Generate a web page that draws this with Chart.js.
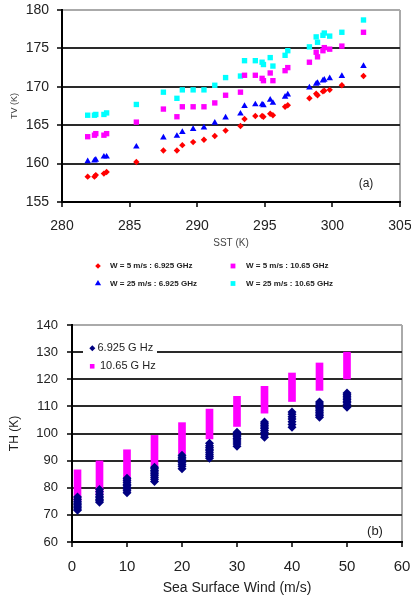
<!DOCTYPE html>
<html><head><meta charset="utf-8">
<script src="https://cdn.jsdelivr.net/npm/chart.js@4/dist/chart.umd.min.js"></script>
<style>
html,body{margin:0;padding:0;background:#fff;}
#wrap{position:relative;width:411px;height:602px;overflow:hidden;background:#fff;}
#c1{position:absolute;left:0;top:0;}
#c2{position:absolute;left:0;top:300px;}
</style></head><body>
<div id="wrap">
<canvas id="c1" width="411" height="300"></canvas>
<canvas id="c2" width="411" height="302"></canvas>
</div>
<script>
// ---------- Panel (a): TV vs SST ----------
const sst = [281.9, 282.4, 282.5, 283.1, 283.3, 285.5, 287.5, 288.5, 288.9, 289.7, 290.5, 291.3, 292.1, 293.2, 293.5, 294.3, 294.8, 294.9, 295.4, 295.6, 296.5, 296.7, 298.3, 298.8, 298.9, 299.3, 299.4, 299.8, 300.7, 302.3];
const tvW5_6925  = [158.3, 158.3, 158.5, 158.7, 158.9, 160.2, 161.7, 161.7, 162.4, 162.8, 163.1, 163.6, 164.3, 164.9, 165.8, 166.2, 166.2, 166.1, 166.5, 166.3, 167.4, 167.6, 168.5, 169.1, 168.9, 169.4, 169.5, 169.6, 170.2, 171.4];
const tvW5_1065  = [163.5, 163.7, 163.9, 163.7, 163.9, 165.4, 167.1, 166.1, 167.4, 167.4, 167.4, 167.9, 168.9, 169.3, 171.5, 171.5, 171.1, 170.8, 171.8, 170.8, 172.1, 172.5, 173.2, 174.5, 173.9, 174.7, 175.1, 174.9, 175.3, 177.1];
const tvW25_6925 = [160.3, 160.4, 160.5, 160.9, 160.9, 162.2, 163.4, 163.6, 164.1, 164.5, 164.7, 165.3, 166.0, 166.5, 167.5, 167.7, 167.7, 167.6, 168.3, 167.9, 168.7, 169.0, 169.9, 170.4, 170.5, 170.8, 170.9, 171.1, 171.4, 172.7];
const tvW25_1065 = [166.3, 166.3, 166.4, 166.4, 166.6, 167.7, 169.3, 168.5, 169.6, 169.6, 169.6, 170.2, 171.2, 171.4, 173.4, 173.4, 173.2, 172.9, 173.8, 172.7, 174.1, 174.7, 175.2, 176.5, 175.8, 176.7, 177.0, 176.6, 177.1, 178.7];
const sstTicks = [280, 285, 290, 295, 300, 305];
const tvTicks = [155, 160, 165, 170, 175, 180];
const seriesNamesA = ['W = 5 m/s : 6.925 GHz', 'W = 5 m/s : 10.65 GHz', 'W = 25 m/s : 6.925 GHz', 'W = 25 m/s : 10.65 GHz'];

// ---------- Panel (b): TH vs sea surface wind ----------
const windSpeeds = [1, 5, 10, 15, 20, 25, 30, 35, 40, 45, 50];
const th6925 = [
  [71.7, 72.2, 72.8, 73.3, 73.9, 74.4, 75.0, 75.8, 76.6],
  [74.7, 75.2, 75.7, 76.3, 76.9, 77.6, 78.5, 79.4],
  [78.2, 78.9, 79.5, 80.1, 80.7, 81.3, 82.0, 82.8, 83.5],
  [82.3, 83.1, 83.9, 84.6, 85.2, 85.8, 86.4, 87.0, 87.6],
  [87.0, 87.9, 88.7, 89.4, 90.0, 90.6, 91.2, 92.0],
  [90.9, 91.5, 92.2, 92.9, 93.6, 94.2, 94.8, 95.5, 96.4],
  [95.3, 96.1, 96.9, 97.6, 98.2, 98.8, 99.4, 100.0, 100.5],
  [98.6, 99.5, 100.4, 101.1, 101.8, 102.4, 103.0, 103.6, 104.2],
  [102.3, 103.3, 104.3, 105.3, 106.2, 107.1, 107.9],
  [106.0, 106.6, 107.2, 107.8, 108.4, 109.0, 109.6, 110.2, 110.9, 111.6],
  [109.7, 110.6, 111.3, 111.9, 112.5, 113.1, 113.7, 114.3, 114.9]
];
const th1065Low  = [75.3, 77.5, 82.4, 87.7, 92.5, 98.0, 102.6, 107.5, 111.8, 115.9, 120.1];
const th1065High = [86.6, 89.9, 94.0, 99.3, 104.0, 109.0, 113.7, 117.4, 122.3, 126.0, 130.0];
const windTicks = [0, 10, 20, 30, 40, 50, 60];
const thTicks = [60, 70, 80, 90, 100, 110, 120, 130, 140];
const seriesNamesB = ['6.925 G Hz', '10.65 G Hz'];

// ---------- helpers ----------
const FONT = '"Liberation Sans", Arial, Helvetica, sans-serif';
function marker(ctx, style, x, y, r, color) {
  ctx.fillStyle = color;
  ctx.beginPath();
  if (style === 'rectRot') {
    ctx.moveTo(x - r, y); ctx.lineTo(x, y - r); ctx.lineTo(x + r, y); ctx.lineTo(x, y + r);
  } else if (style === 'triangle') {
    ctx.moveTo(x, y - r); ctx.lineTo(x + r * 0.866, y + r * 0.5); ctx.lineTo(x - r * 0.866, y + r * 0.5);
  } else {
    ctx.rect(x - r, y - r, 2 * r, 2 * r);
  }
  ctx.closePath();
  ctx.fill();
}
const deco = {
  id: 'deco',
  beforeDatasetsDraw(chart, args, opts) {
    const ctx = chart.ctx;
    (opts.boxes || []).forEach(b => { ctx.fillStyle = '#fff'; ctx.fillRect(b.x, b.y, b.w, b.h); });
  },
  afterDraw(chart, args, opts) {
    const ctx = chart.ctx;
    ctx.save();
    (opts.legend || []).forEach(it => {
      const ds = chart.data.datasets[it.ds];
      marker(ctx, it.style, it.mx, it.y, it.r, ds.backgroundColor);
      ctx.font = it.font;
      ctx.fillStyle = '#222';
      ctx.textBaseline = 'middle';
      ctx.textAlign = 'left';
      ctx.fillText(ds.label, it.tx, it.y);
    });
    (opts.texts || []).forEach(t => {
      ctx.font = t.font;
      ctx.fillStyle = '#222';
      ctx.textBaseline = 'middle';
      ctx.textAlign = 'center';
      ctx.fillText(t.text, t.x, t.y);
    });
    ctx.restore();
  }
};
const TRANSPARENT = 'rgba(0,0,0,0)';

// ---------- Chart (a) ----------
const ptsA = arr => sst.map((x, i) => ({ x: x, y: arr[i] }));
new Chart(document.getElementById('c1'), {
  type: 'scatter',
  data: {
    datasets: [
      { label: seriesNamesA[0], data: ptsA(tvW5_6925), pointStyle: 'rectRot', radius: 3.2, backgroundColor: '#ff0000', borderColor: '#ff0000', borderWidth: 0 },
      { label: seriesNamesA[1], data: ptsA(tvW5_1065), pointStyle: 'rect', radius: 3.8, backgroundColor: '#ff00ff', borderColor: '#ff00ff', borderWidth: 0 },
      { label: seriesNamesA[2], data: ptsA(tvW25_6925), pointStyle: 'triangle', radius: 3.8, backgroundColor: '#0000ff', borderColor: '#0000ff', borderWidth: 0 },
      { label: seriesNamesA[3], data: ptsA(tvW25_1065), pointStyle: 'rect', radius: 3.8, backgroundColor: '#00ffff', borderColor: '#00ffff', borderWidth: 0 }
    ]
  },
  options: {
    responsive: false, animation: false, events: [],
    layout: { padding: { left: 0, right: 11, top: 10, bottom: 0 } },
    plugins: {
      legend: { display: false }, tooltip: { enabled: false },
      deco: {
        legend: [
          { ds: 0, style: 'rectRot', r: 2.8, mx: 98, tx: 110, y: 266, font: 'bold 8px ' + FONT },
          { ds: 1, style: 'rect', r: 2.4, mx: 233, tx: 246, y: 266, font: 'bold 8px ' + FONT },
          { ds: 2, style: 'triangle', r: 3.6, mx: 98, tx: 110, y: 283.5, font: 'bold 8px ' + FONT },
          { ds: 3, style: 'rect', r: 2.4, mx: 233, tx: 246, y: 283.5, font: 'bold 8px ' + FONT }
        ],
        texts: [ { text: '(a)', x: 366, y: 184, font: '12px ' + FONT } ]
      }
    },
    scales: {
      x: {
        type: 'linear', min: 280, max: 305,
        afterBuildTicks: s => { s.ticks = sstTicks.map(v => ({ value: v })); },
        afterFit: s => { s.height = 98; s.paddingLeft = 0; s.paddingRight = 0; },
        grid: { color: c => (c.tick && c.tick.value === 305) ? '#aaaaaa' : TRANSPARENT, lineWidth: 2, tickColor: '#000', tickLength: 5, tickWidth: 1.5 },
        border: { color: '#000', width: 2 },
        ticks: { font: { family: FONT, size: 14 }, color: '#222', padding: 11, maxRotation: 0, autoSkip: false },
        title: { display: true, text: 'SST (K)', font: { family: FONT, size: 10 }, color: '#444', padding: { top: 0, bottom: 51 } }
      },
      y: {
        type: 'linear', min: 155, max: 180,
        afterBuildTicks: s => { s.ticks = tvTicks.map(v => ({ value: v })); },
        afterFit: s => { s.width = 62; s.paddingTop = 0; s.paddingBottom = 0; },
        grid: { color: c => !c.tick ? TRANSPARENT : (c.tick.value === 180 ? '#aaaaaa' : (c.tick.value === 155 ? TRANSPARENT : '#2a2a2a')), lineWidth: 2, tickColor: '#000', tickLength: 5, tickWidth: 1.5 },
        border: { color: '#000', width: 2 },
        ticks: { font: { family: FONT, size: 14 }, color: '#222', padding: 8 },
        title: { display: true, text: 'TV (K)', font: { family: FONT, size: 9 }, color: '#444', padding: { top: 9.6, bottom: 0 } }
      }
    }
  },
  plugins: [deco]
});

// ---------- Chart (b) ----------
const navyPts = [];
windSpeeds.forEach((w, i) => th6925[i].forEach(v => navyPts.push({ x: w, y: v })));
const magentaBars = windSpeeds.map((w, i) => ({ x: w, y: [th1065Low[i], th1065High[i]] }));
new Chart(document.getElementById('c2'), {
  type: 'scatter',
  data: {
    datasets: [
      { type: 'scatter', label: seriesNamesB[0], data: navyPts, pointStyle: 'rectRot', radius: 4.5, backgroundColor: '#000080', borderColor: '#000080', borderWidth: 0 },
      { type: 'bar', label: seriesNamesB[1], data: magentaBars, backgroundColor: '#ff00ff', borderWidth: 0, barThickness: 7, grouped: false }
    ]
  },
  options: {
    responsive: false, animation: false, events: [],
    layout: { padding: { left: 0, right: 9, top: 25, bottom: 0 } },
    plugins: {
      legend: { display: false }, tooltip: { enabled: false },
      deco: {
        boxes: [ { x: 83, y: 38, w: 74, h: 36 } ],
        legend: [
          { ds: 0, style: 'rectRot', r: 3, mx: 92.3, tx: 97.5, y: 48.3, font: '11px ' + FONT },
          { ds: 1, style: 'rect', r: 2.3, mx: 92.2, tx: 100, y: 66.3, font: '11px ' + FONT }
        ],
        texts: [ { text: '(b)', x: 375, y: 231, font: '13px ' + FONT } ]
      }
    },
    scales: {
      x: {
        type: 'linear', min: 0, max: 60, offset: false,
        afterBuildTicks: s => { s.ticks = windTicks.map(v => ({ value: v })); },
        afterFit: s => { s.height = 60; s.paddingLeft = 0; s.paddingRight = 0; },
        grid: { offset: false, color: c => (c.tick && c.tick.value === 60) ? '#aaaaaa' : TRANSPARENT, lineWidth: 2, tickColor: '#000', tickLength: 5, tickWidth: 1.5 },
        border: { color: '#000', width: 2 },
        ticks: { font: { family: FONT, size: 15 }, color: '#222', padding: 11, maxRotation: 0, autoSkip: false },
        title: { display: true, text: 'Sea Surface Wind (m/s)', font: { family: FONT, size: 14 }, color: '#222', padding: { top: 0, bottom: 5.6 } }
      },
      y: {
        type: 'linear', min: 60, max: 140,
        afterBuildTicks: s => { s.ticks = thTicks.map(v => ({ value: v })); },
        afterFit: s => { s.width = 72; s.paddingTop = 0; s.paddingBottom = 0; },
        grid: { color: c => !c.tick ? TRANSPARENT : (c.tick.value === 140 ? '#aaaaaa' : (c.tick.value === 60 ? TRANSPARENT : '#2a2a2a')), lineWidth: 2, tickColor: '#000', tickLength: 5, tickWidth: 1.5 },
        border: { color: '#000', width: 2 },
        ticks: { font: { family: FONT, size: 13 }, color: '#222', padding: 9 },
        title: { display: true, text: 'TH (K)', font: { family: FONT, size: 12 }, color: '#222', padding: { top: 7.8, bottom: 0 } }
      }
    }
  },
  plugins: [deco]
});
</script>
</body></html>
